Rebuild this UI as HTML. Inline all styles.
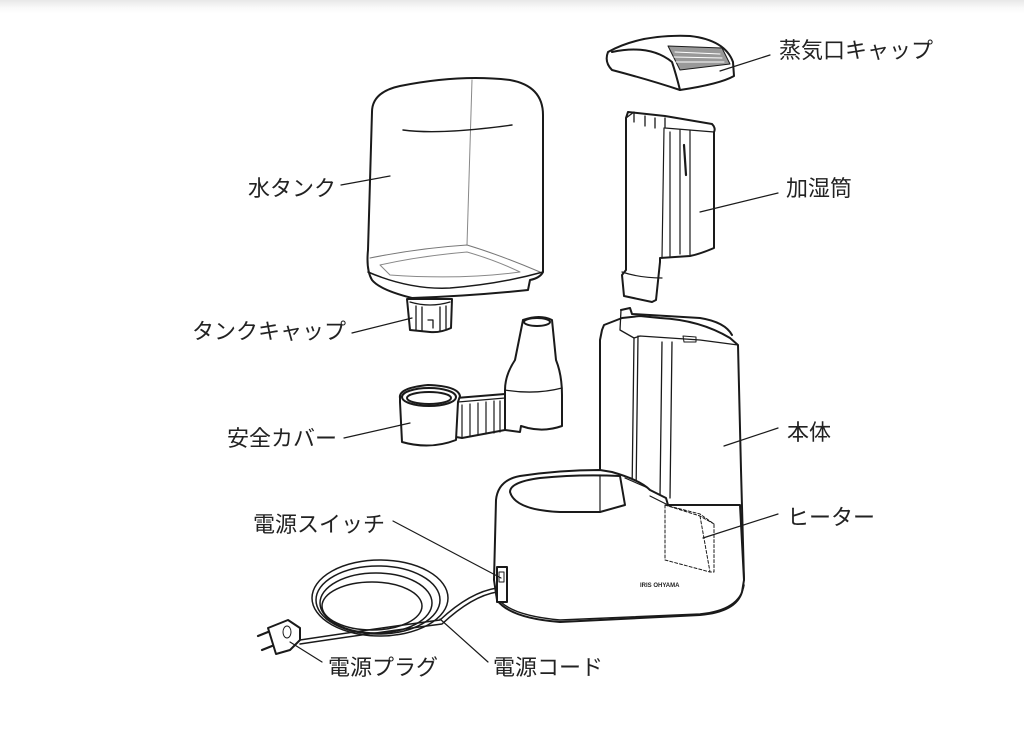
<!DOCTYPE html>
<html><head><meta charset="utf-8"><style>
html,body{margin:0;padding:0;background:#fff;}
body{width:1024px;height:744px;overflow:hidden;position:relative;background:linear-gradient(#e8e8e8 0px,#fafafa 8px,#fff 14px);}
svg{position:absolute;left:0;top:0;}
text{font-family:"Liberation Sans","Noto Sans CJK JP",sans-serif;font-size:22px;fill:#222;}
</style></head><body>
<svg width="1024" height="744" viewBox="0 0 1024 744" fill="none" stroke="#1a1a1a" stroke-width="2" stroke-linejoin="round" stroke-linecap="round">
<!-- Steam cap -->
<path d="M608 52 Q640 34 690 36 Q725 40 733 62 L734 76 Q720 84 680 90 Q650 80 612 70 Q604 62 608 52Z" fill="#fff"/>
<path d="M612 52 Q650 44 672 62 Q676 74 680 90" />
<path d="M668 46 L722 48 L730 64 L680 70 Z" fill="#999" stroke-width="1"/>
<path d="M675 52 L720 54 M674 57 L722 58 M676 62 L724 62" stroke="#fff" stroke-width="1"/>
<!-- Water tank -->
<path d="M372 112 Q372 92 400 86 Q460 74 510 80 Q543 86 543 115 L543 272 Q540 278 530 280 L528 290 Q470 296 412 298 Q380 290 372 280 Q366 270 368 250 Z" fill="#fff"/>
<path d="M472 80 L467 245" stroke="#888" stroke-width="1"/>
<path d="M403 130 Q440 135 512 125" stroke-width="1.4"/>
<path d="M370 258 Q420 248 467 245 Q500 255 540 272" stroke="#777" stroke-width="1"/>
<path d="M380 265 Q420 256 467 252 Q495 260 520 272 Q460 280 390 275Z" stroke="#888" stroke-width="1"/>
<path d="M368 272 Q410 290 450 288 Q500 284 543 272" stroke-width="1.5"/>
<!-- tank cap -->
<path d="M407 299 L452 299 L451 328 Q440 333 430 332 L410 330 Z" fill="#fff"/>
<path d="M410 302 Q430 308 450 302 M416 306 L416 330 M422 307 L422 331 M440 307 L440 331 M446 306 L446 329 M428 320 L433 320 L433 328" stroke-width="1.3"/>
<!-- Safety cover bottle -->
<path d="M523 320 Q540 314 552 320 L556 360 Q562 375 562 395 L562 426 Q545 432 528 428 L521 426 L520 432 L505 430 L505 390 Q505 375 515 360 Z" fill="#fff"/>
<ellipse cx="537" cy="322" rx="13" ry="4"/>
<path d="M505 390 Q535 395 562 388" stroke-width="1.3"/>
<!-- cover tray -->
<path d="M456 398 L505 394 L505 430 L462 438 L456 437 Z" fill="#fff"/>
<path d="M458 402 L505 398 M462 405 L462 437 M470 404 L470 436 M478 403 L478 435 M486 402 L486 434 M494 401 L494 433 M500 401 L500 432" stroke-width="1.2"/>
<!-- cup -->
<path d="M400 398 Q398 388 428 385 Q458 386 460 396 L458 402 L456 440 Q430 450 402 442 L400 402Z" fill="#fff"/>
<ellipse cx="429" cy="397" rx="27" ry="9"/>
<ellipse cx="429" cy="398" rx="22" ry="6"/>
<!-- Humidifier tube -->
<path d="M628 112 L665 116 L712 124 Q716 128 714 132 L714 248 Q700 254 690 256 L660 258 L660 262 L656 300 L652 302 L624 296 L622 275 L626 270 L626 118 Z" fill="#fff"/>
<path d="M626 118 L634 112 L634 122 M645 116 L645 126 M655 118 L655 128 M665 118 L665 128 L714 132" stroke-width="1.3"/>
<path d="M664 128 L662 258 M670 132 L670 256 M680 130 L680 254 M690 130 L690 255" stroke-width="1.2"/>
<path d="M684 145 L686 175" stroke-width="2.2"/>
<path d="M622 272 Q640 278 662 278" stroke-width="1.2"/>
<!-- Main body tower -->
<path d="M602 330 L604 325 L622 318 L640 316 L660 318 Q700 320 730 338 L738 345 L741 470 L744 580 L600 575 L600 340 Z" fill="#fff"/>
<path d="M621 310 L630 308 L632 314 L700 318 Q725 322 732 335" />
<path d="M621 310 L620 330 L634 338 L640 336 L700 340 L738 345" stroke-width="1.3"/>
<path d="M634 338 L632 495 M638 336 L636 495 M662 342 L660 497 M672 342 L670 498" stroke-width="1.3"/>
<path d="M683 336 L684 342 L696 342 L696 337Z" stroke-width="1"/>
<!-- Base -->
<path d="M496 500 Q498 480 520 476 Q560 470 600 470 L612 472 Q640 480 650 490 L666 498 L668 505 L740 505 L744 580 L742 592 Q736 612 700 615 L560 622 Q510 618 497 600 L494 580 Z" fill="#fff"/>
<path d="M510 492 Q510 482 540 478 Q580 474 620 476 L625 505 L600 512 L560 512 Q515 510 510 492Z" fill="#fff"/>
<path d="M600 475 L600 512 M625 478 L648 488 M650 496 L668 505" stroke-width="1.2"/>
<path d="M496 595 Q505 615 560 620 L700 614 Q740 610 744 585" stroke-width="1.5"/>
<rect x="497" y="567" width="10" height="35" fill="#fff"/>
<rect x="499" y="572" width="5" height="10" stroke-width="1"/>
<text x="640" y="587" style="font-size:6px;font-weight:bold" stroke="none">IRIS OHYAMA</text>
<!-- heater dashed -->
<path d="M665 505 L665 560 L710 572 L714 572 L714 524 L700 514 L665 505 M665 505 L700 516 L714 524 M700 516 L710 572" stroke-dasharray="3 2" stroke-width="1"/>
<!-- cord -->
<g stroke-width="1.5">
<ellipse cx="378" cy="600" rx="62" ry="34"/>
<ellipse cx="376" cy="603" rx="56" ry="30"/>
<ellipse cx="380" cy="598" rx="68" ry="38"/>
<ellipse cx="372" cy="606" rx="50" ry="24"/>
<path d="M300 640 Q380 628 440 620 Q470 592 497 588"/>
<path d="M300 644 Q380 632 442 624 Q472 596 497 592"/>
</g>
<!-- plug -->
<path d="M268 628 L288 620 L300 628 L300 640 L290 650 L276 654 Z" fill="#fff"/>
<path d="M268 632 L258 636 M272 646 L262 650" stroke-width="2.2"/>
<ellipse cx="287" cy="632" rx="4" ry="6" stroke-width="1"/>
<!-- leader lines -->
<g stroke-width="1.2">
<line x1="770" y1="55" x2="720" y2="71"/>
<line x1="778" y1="193" x2="700" y2="212"/>
<line x1="341" y1="185" x2="390" y2="176"/>
<line x1="352" y1="333" x2="412" y2="318"/>
<line x1="344" y1="438" x2="410" y2="423"/>
<line x1="778" y1="428" x2="724" y2="446"/>
<line x1="778" y1="514" x2="703" y2="538"/>
<line x1="393" y1="521" x2="501" y2="578"/>
<line x1="322" y1="662" x2="290" y2="642"/>
<line x1="488" y1="662" x2="440" y2="619"/>
</g>
<g stroke="none">
<text x="779" y="58">蒸気口キャップ</text>
<text x="786" y="196">加湿筒</text>
<text x="248" y="196">水タンク</text>
<text x="192" y="339">タンクキャップ</text>
<text x="227" y="446">安全カバー</text>
<text x="787" y="440">本体</text>
<text x="253" y="532">電源スイッチ</text>
<text x="787" y="525">ヒーター</text>
<text x="328" y="675">電源プラグ</text>
<text x="493" y="675">電源コード</text>
</g>
</svg>
</body></html>
